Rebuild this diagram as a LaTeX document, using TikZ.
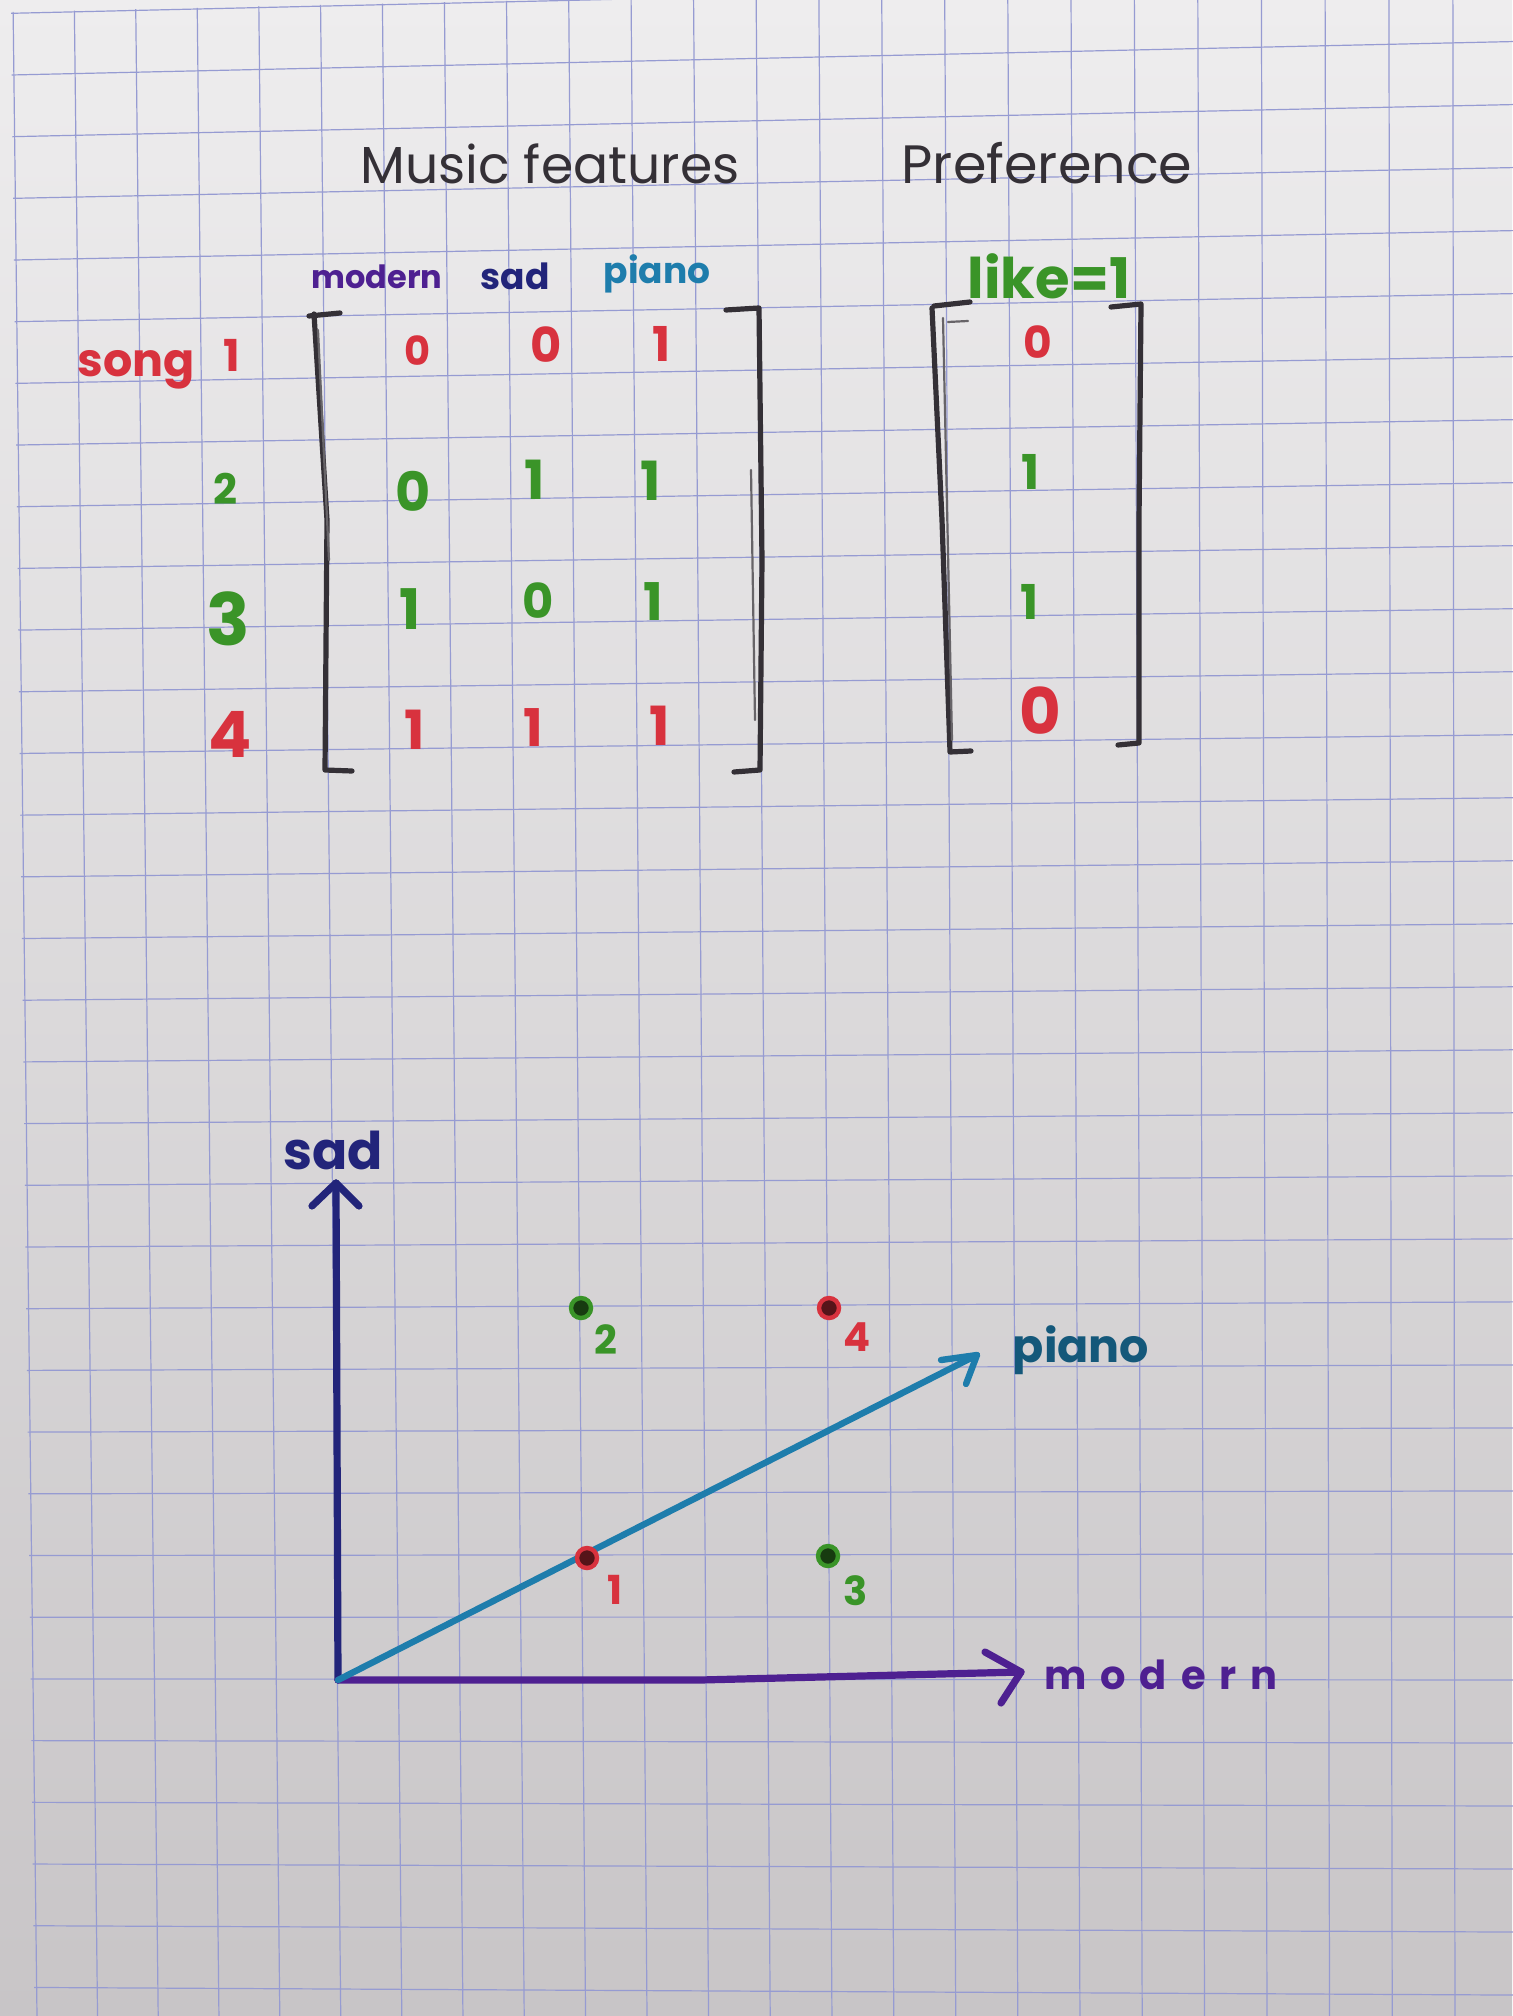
\documentclass[tikz,border=0pt]{standalone}
\usepackage{fontspec}
\setmainfont{Poppins}
\definecolor{paperTop}{RGB}{238,237,238}
\definecolor{paperBot}{RGB}{200,197,199}
\definecolor{gridc}{RGB}{150,155,210}
\definecolor{pencil}{RGB}{52,48,54}
\definecolor{mred}{RGB}{216,50,62}
\definecolor{mgreen}{RGB}{58,148,40}
\definecolor{mpurple}{RGB}{78,32,145}
\definecolor{mnavy}{RGB}{34,36,122}
\definecolor{mteal}{RGB}{30,125,172}
\definecolor{mtealdk}{RGB}{20,88,122}
\begin{document}
\begin{tikzpicture}[x=0.5pt,y=-0.5pt,
  gridline/.style={draw=gridc,line width=0.6pt},
  brk/.style={draw=pencil,line width=2.6pt,line cap=round,line join=round},
  brkthin/.style={draw=pencil!75,line width=1.1pt,line cap=round},
  title/.style={text=pencil,inner sep=0pt,anchor=base,font=\fontsize{#1}{#1}\selectfont},
  hdr/.style={inner sep=0pt,font=\bfseries\fontsize{#1}{#1}\selectfont},
  ent/.style={inner sep=0pt,font=\bfseries\fontsize{#1}{#1}\selectfont},
  ent/.default=25,
  axisln/.style={line width=3.6pt,line cap=round,line join=round},
  songdot/.style={circle,inner sep=0pt,minimum size=10pt,fill=black!60!#1,draw=#1,line width=2.2pt}
]
\useasboundingbox (0,0) rectangle (1512,2016);
\shade[top color=paperTop,bottom color=paperBot] (0,0) rectangle (1512,2016);

% ---------- squared paper ----------
\begin{scope}
\clip (11,12) -- (1600,-24) -- (1600,2100) -- (35.5,2100) -- cycle;
\foreach \k in {0,...,25}{
  \pgfmathsetmacro{\xt}{13+61.2*\k+0.061*\k*\k}
  \pgfmathsetmacro{\xb}{37+60.5*\k+0.05*\k*\k}
  \pgfmathsetmacro{\xtt}{\xt-(\xb-\xt)*0.03}
  \draw[gridline] (\xtt,-60) -- (\xb,2016);
}
\foreach \k in {0,...,33}{
  \pgfmathsetmacro{\yl}{13+61.7*\k}
  \pgfmathsetmacro{\yr}{-20+62.96*\k}
  \pgfmathsetmacro{\slp}{(\yr-\yl)/1425}
  \pgfmathsetmacro{\ya}{\yl-25*\slp}
  \pgfmathsetmacro{\yb}{\yr+150*\slp}
  \draw[gridline] (0,\ya) -- (1600,\yb);
}
\end{scope}

% ---------- titles ----------
\node[title=26] (tmusic) at (550,184) {Music features};
\node[title=27] (tpref) at (1047,184) {Preference};

% ---------- column headers ----------
\node[hdr=16,mpurple] (hmod) at (377,277) {modern};
\node[hdr=18,mnavy] (hsad) at (515,276) {sad};
\node[hdr=18,mteal] (hpia) at (657,274) {piano};
\node[hdr=28,mgreen] (hlike) at (1049,276) {like=1};

% ---------- row labels ----------
\node[ent=23,mred,anchor=base] (song) at (136,377) {song};
\node[ent=22,mred] (r1) at (232,355) {1};
\node[ent=21,mgreen] (r2) at (225,489) {2};
\node[ent=36,mgreen] (r3) at (228,619) {3};
\node[ent=32,mred] (r4) at (230,734) {4};

% ---------- feature matrix brackets ----------
\draw[brk] (309,316) -- (340,313);
\draw[brk] (314,314) -- (327,520) -- (325,770) -- (352,771);
\draw[brkthin] (318,330) -- (329,560);
\draw[brk] (726,310) -- (759,308) -- (762,560) -- (760,770) -- (734,772);
\draw[brkthin] (751,470) -- (755,720);

% ---------- feature matrix entries ----------
\node[ent=20,mred] (m11) at (418,351) {0};
\node[ent=24,mred] (m12) at (546,345) {0};
\node[ent=24,mred] (m13) at (662,344) {1};
\node[ent=27,mgreen] (m21) at (413,491) {0};
\node[ent=27,mgreen] (m22) at (535,480) {1};
\node[ent=27,mgreen] (m23) at (651,481) {1};
\node[ent=28,mgreen] (m31) at (410,609) {1};
\node[ent=24,mgreen] (m32) at (538,601) {0};
\node[ent=26,mgreen] (m33) at (653,602) {1};
\node[ent=27,mred] (m41) at (415,730) {1};
\node[ent=26,mred] (m42) at (533,728) {1};
\node[ent=27,mred] (m43) at (660,726) {1};

% ---------- preference vector ----------
\draw[brk] (934,306) -- (970,302);
\draw[brk] (932,308) -- (942,520) -- (950,752) -- (971,751);
\draw[brkthin] (943,318) -- (952,740);
\draw[brkthin] (948,322) -- (968,321);
\draw[brk] (1111,307) -- (1141,304) -- (1139,520) -- (1139,743) -- (1118,745);
\node[ent=22,mred] (p1) at (1038,342) {0};
\node[ent=24,mgreen] (p2) at (1031,472) {1};
\node[ent=24,mgreen] (p3) at (1030,602) {1};
\node[ent=32,mred] (p4) at (1040,711) {0};

% ---------- feature space plot ----------
\coordinate (O) at (338,1680);
\coordinate (sadtip) at (336,1183);
\coordinate (modtip) at (1021,1672);
\coordinate (piatip) at (977,1355);
\coordinate (sadL) at (312,1206);
\coordinate (sadR) at (359,1206);
\coordinate (modU) at (985,1652);
\coordinate (modD) at (1001,1703);
\coordinate (piaU) at (941,1360);
\coordinate (piaD) at (966,1384);

\draw[axisln,mnavy] (O) -- (sadtip);
\draw[axisln,mnavy] (sadL) -- (sadtip) -- (sadR);
\draw[axisln,mpurple] (O) -- (700,1680) -- (modtip);
\draw[axisln,mpurple] (modU) -- (modtip) -- (modD);
\draw[axisln,mteal,line width=3.2pt] (O) -- (piatip);
\draw[axisln,mteal,line width=3.2pt] (piaU) -- (piatip) -- (piaD);

\node[hdr=26,mnavy] (lsad) at (333,1150) {sad};
\node[hdr=23,mtealdk] (lpia) at (1081,1350) {piano};
\node[hdr=20,mpurple] (lmod) at (1161,1675) {m\hspace{7pt}o\hspace{7pt}d\hspace{7pt}e\hspace{7pt}r\hspace{7pt}n};

\node[songdot=mgreen] (d2) at (581,1308) {};
\node[songdot=mred] (d4) at (829,1308) {};
\node[songdot=mred] (d1) at (587,1558) {};
\node[songdot=mgreen] (d3) at (828,1556) {};

\node[ent=20,mgreen] (l2) at (606,1340) {2};
\node[ent=20,mred] (l4) at (857,1337) {4};
\node[ent=20,mred] (l1) at (615,1590) {1};
\node[ent=20,mgreen] (l3) at (856,1591) {3};
\end{tikzpicture}
\end{document}
